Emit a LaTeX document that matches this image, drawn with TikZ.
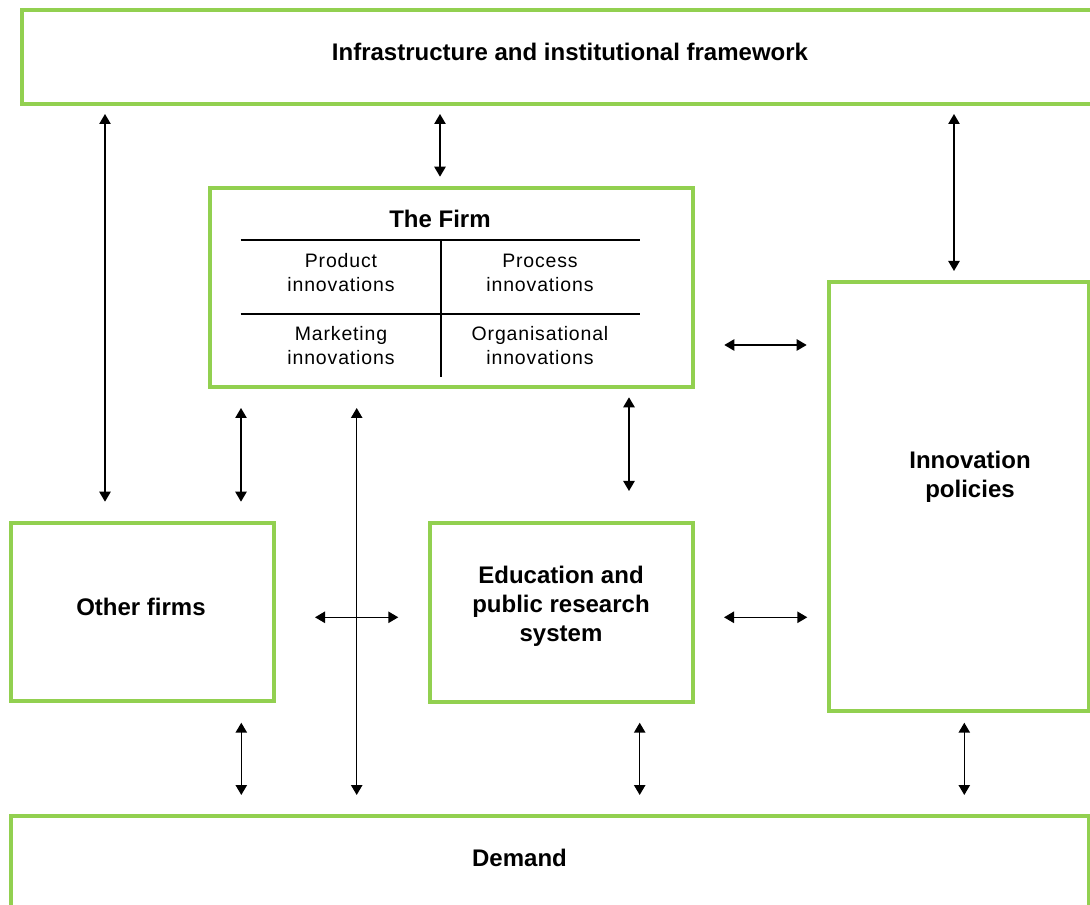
\documentclass[tikz,border=0pt]{standalone}
\usepackage{fontspec}
\setmainfont{Liberation Sans}
\newfontfamily\cellfont[LetterSpace=4.4]{Liberation Sans}
\usetikzlibrary{arrows.meta,fit}
\definecolor{boxgreen}{HTML}{92D050}

\tikzset{
  box/.style={draw=boxgreen, line width=3pt, inner sep=0pt, outer sep=0pt},
  heading/.style={font=\bfseries\fontsize{18}{21.75}\selectfont, align=center, inner sep=0pt},
  cell/.style={font=\cellfont\fontsize{14.6}{18}\selectfont, align=center, inner sep=0pt},
  rule/.style={line width=1.2pt},
  link/.style={line width=1.1pt, {Triangle[length=7.5pt,width=8.5pt]}-{Triangle[length=7.5pt,width=8.5pt]}},
}

\begin{document}
\begin{tikzpicture}[x=0.75pt, y=-0.75pt]
    \useasboundingbox (0,0) rectangle (1090,905);
    \clip (0,0) rectangle (1090,905);

    % boxes
    \node[box, fit={(22,10) (1119,104)}] (infra) {};
    \node[box, fit={(210,188) (692.5,387)}] (firm) {};
    \node[box, fit={(11,523.5) (273.5,701)}] (others) {};
    \node[box, fit={(430,523.5) (692.5,701.5)}] (edu) {};
    \node[box, fit={(828.5,282.5) (1088.5,711)}] (policy) {};
    \node[box, fit={(11,816) (1088.5,940)}] (demand) {};

    % labels
    \node[heading] (infratext) at (570,52) {Infrastructure and institutional framework};
    \node[heading] (firmtext) at (440,219) {The Firm};
    \node[heading] (otherstext) at (141,607) {Other firms};
    \node[heading] (edutext) at (561,606) {Education and\\public research\\system};
    \node[heading] (policytext) at (970,477) {Innovation\\policies};
    \node[heading] (demandtext) at (519.5,858) {Demand};

    % the firm's four kinds of innovation
    \draw[rule] (240.7,240.3) -- (640,240.3) (240.7,314) -- (640,314) (440.7,240.3) -- (440.7,376.7);
    \node[cell] (product) at (341,273) {Product\\innovations};
    \node[cell] (process) at (540,273) {Process\\innovations};
    \node[cell] (marketing) at (341,346) {Marketing\\innovations};
    \node[cell] (organisation) at (540,346) {Organisational\\innovations};

    % links: upper/lower/column/gap at start/gap at end (px)
    \foreach \a/\b/\x/\s/\e in {infra/others/105/10/21.8, infra/firm/440/10/11.3, infra/policy/954/10/11.5,
        firm/others/241/21/21.8, firm/demand/356.7/21/21, firm/edu/629/10.3/32.5,
        others/demand/241.3/21.7/21, edu/demand/639.7/21.2/21, policy/demand/964.3/11.7/21}
      { \draw[link, shorten <=\s*0.75pt, shorten >=\e*0.75pt] (\a.south -| \x,0) -- (\b.north -| \x,0); }
    \foreach \a/\b/\y/\s/\e in {firm/policy/345/31.8/21.8, others/edu/617.3/41.5/31.7, edu/policy/617.3/31.5/21.2}
      { \draw[link, shorten <=\s*0.75pt, shorten >=\e*0.75pt] (\a.east |- 0,\y) -- (\b.west |- 0,\y); }
\end{tikzpicture}
\end{document}
